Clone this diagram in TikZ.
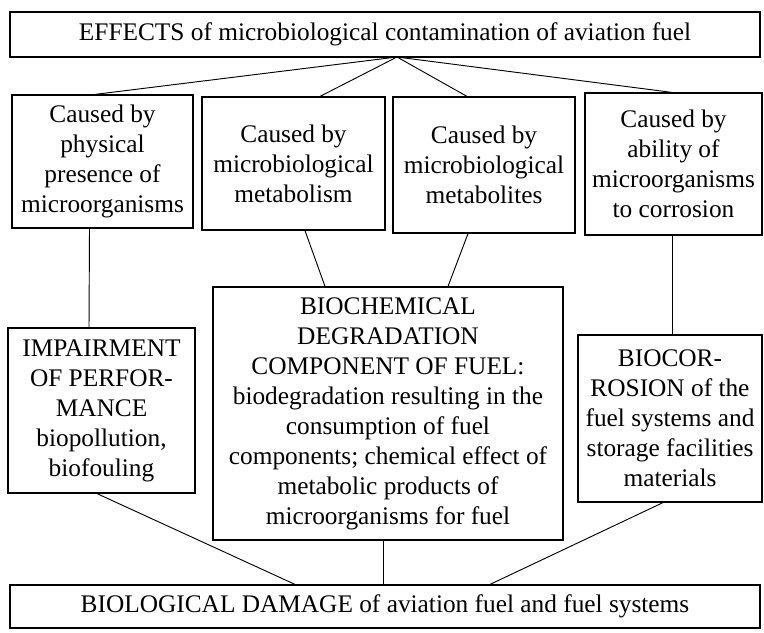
\documentclass[tikz,border=0pt]{standalone}
\usepackage{fontspec}
\setmainfont{Liberation Serif}
\usepackage{tikz}
\usetikzlibrary{calc}

\begin{document}
\begin{tikzpicture}[
  x=0.75pt, y=-0.75pt,
  panel/.style 2 args={draw=black, line width=0.9pt, fill=white, inner sep=0pt,
               minimum width=#1*0.75pt, minimum height=#2*0.75pt, align=center,
               font=\fontsize{19}{22.5}\selectfont},
  link/.style={line width=0.7pt, black}]
  \useasboundingbox (0,0) rectangle (764,632);
  % top: effects
  \node[panel={750}{45}] (effects) at (385,34.5) {EFFECTS of microbiological contamination of aviation fuel};
  \coordinate (apex) at (397,57);
  % row 1: causes
  \node[panel={181}{133}] (cPhys) at (102.5,161.5) {Caused by\\ physical\\ presence of\\ microorganisms};
  \node[panel={183}{133}] (cMetab) at (293.5,163.5) {Caused by\\ microbiological\\ metabolism};
  \node[panel={182}{136}] (cMetl) at (484,165) {Caused by\\ microbiological\\ metabolites};
  \node[panel={177}{142}] (cCorr) at (673.5,164) {Caused by\\ ability of\\ microorganisms\\ to corrosion};
  % row 2: consequences
  \node[panel={187}{165}] (impair) at (101.5,410.5) {IMPAIRMENT\\ OF PERFOR-\\ MANCE\\ biopollution,\\ biofouling};
  \node[panel={350}{253}] (biochem) at (388,413.5) {BIOCHEMICAL\\ DEGRADATION\\ COMPONENT OF FUEL:\\ biodegradation resulting in the\\ consumption of fuel\\ components; chemical effect of\\ metabolic products of\\ microorganisms for fuel};
  \node[panel={184}{167}] (biocor) at (670,418.5) {BIOCOR-\\ ROSION of the\\ fuel systems and\\ storage facilities\\ materials};
  % bottom: damage
  \node[panel={750}{43}] (damage) at (385,606.5) {BIOLOGICAL DAMAGE of aviation fuel and fuel systems};
  % links
  \draw[link] (apex) -- ($(cPhys.north)+(-7.5,0)$);
  \draw[link] (apex) -- ($(cMetab.north)+(26.5,0)$);
  \draw[link] (apex) -- ($(cMetl.north)+(-17,0)$);
  \draw[link] (apex) -- ($(cCorr.north)+(-1.5,0)$);
  \draw[link] ($(cPhys.south)+(-13,0)$) -- ($(impair.north)+(-12.5,0)$);
  \draw[link] ($(cMetab.south)+(11.5,0)$) -- ($(biochem.north)+(-63,0)$);
  \draw[link] ($(cMetl.south)+(-16,0)$) -- ($(biochem.north)+(60,0)$);
  \draw[link] ($(cCorr.south)+(-1.5,0)$) -- ($(biocor.north)+(2,0)$);
  \draw[link] ($(impair.south)+(-4.5,0)$) -- ($(damage.north)+(-90,0)$);
  \draw[link] ($(biochem.south)+(-5,0)$) -- ($(damage.north)+(-2,0)$);
  \draw[link] ($(biocor.south)+(-7,0)$) -- ($(damage.north)+(105,0)$);
\end{tikzpicture}
\end{document}
